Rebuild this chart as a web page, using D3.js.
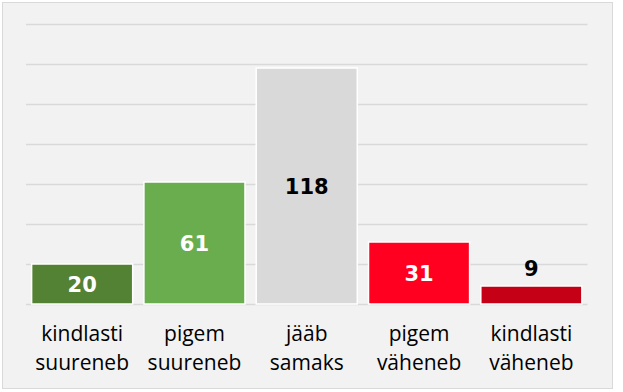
<!DOCTYPE html>
<html>
<head>
<meta charset="utf-8">
<script src="https://cdn.jsdelivr.net/npm/d3@7"></script>
<style>
html,body{margin:0;padding:0;background:#fff;}
svg{display:block;}
</style>
</head>
<body>
<svg id="chart" width="623" height="392"></svg>
<script>
const categories = [["kindlasti","suureneb"],["pigem","suureneb"],["jääb","samaks"],["pigem","väheneb"],["kindlasti","väheneb"]];
const values = [20, 61, 118, 31, 9];
const colors = ["#548235", "#6aad4e", "#d9d9d9", "#ff0020", "#c50016"];
const labelColors = ["#ffffff", "#ffffff", "#000000", "#ffffff", "#000000"];
const labelInside = [true, true, true, true, false];
const yTicks = [0, 20, 40, 60, 80, 100, 120, 140];

const svg = d3.select("#chart");
svg.append("rect").attr("x", 2.5).attr("y", 2.5).attr("width", 610).attr("height", 386)
  .attr("fill", "#f2f2f2").attr("stroke", "#d9d9d9").attr("stroke-width", 1);

const idx = d3.range(values.length);
const x = d3.scaleBand().domain(idx).range([26, 587.5]).paddingInner(0.1).paddingOuter(0.05);
const y = d3.scaleLinear().domain([0, 140]).range([304, 24]);

const yAxis = d3.axisLeft(y).tickValues(yTicks).tickSize(-(587.5 - 26)).tickFormat("");
const gy = svg.append("g").attr("transform", "translate(26,0)").call(yAxis);
gy.select(".domain").remove();
gy.selectAll(".tick line").attr("stroke", "#d9d9d9").attr("stroke-width", 1.5);

svg.append("g").selectAll("rect").data(idx).join("rect")
  .attr("x", i => x(i)).attr("width", x.bandwidth())
  .attr("y", i => y(values[i])).attr("height", i => y(0) - y(values[i]))
  .attr("fill", i => colors[i]).attr("stroke", "#ffffff").attr("stroke-width", 1.5);

svg.append("g").selectAll("text").data(idx).join("text")
  .attr("x", i => x(i) + x.bandwidth() / 2)
  .attr("y", i => labelInside[i] ? (y(values[i]) + y(0)) / 2 : y(values[i]) - 18)
  .attr("dy", "0.36em")
  .attr("text-anchor", "middle")
  .attr("font-family", "DejaVu Sans")
  .attr("font-weight", "bold")
  .attr("font-size", 21)
  .attr("fill", i => labelColors[i])
  .text(i => values[i]);

const xAxis = d3.axisBottom(x).tickSize(0).tickFormat("");
const gx = svg.append("g").attr("transform", "translate(0,304)").call(xAxis);
gx.select(".domain").remove();

gx.selectAll(".tick").each(function(i) {
  const t = d3.select(this).append("text")
    .attr("text-anchor", "middle")
    .attr("font-family", "Open Sans")
    .attr("font-size", 21)
    .attr("fill", "#000");
  categories[i].forEach((line, k) => {
    t.append("tspan").attr("x", 0).attr("y", 37 + k * 28.8).text(line);
  });
});
</script>
</body>
</html>
